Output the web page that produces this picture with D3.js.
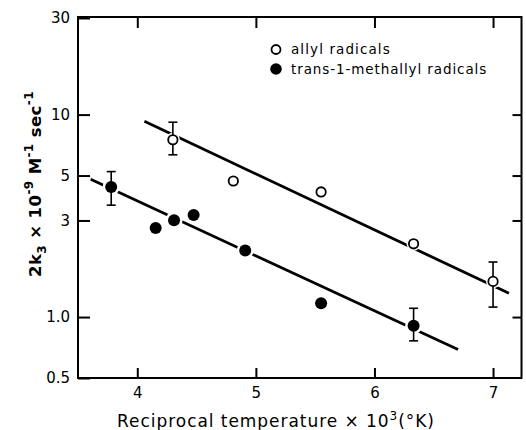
<!DOCTYPE html>
<html>
<head>
<meta charset="utf-8">
<script src="https://cdn.jsdelivr.net/npm/d3@7"></script>
<style>
  html, body { margin: 0; padding: 0; background: #fff; }
  svg { display: block; }
  text { font-family: "DejaVu Sans", sans-serif; fill: #000; }
</style>
</head>
<body>
<svg id="chart" width="526" height="430"></svg>
<script>
// ---- data ----
const allylX   = [4.30, 4.81, 5.55, 6.33, 7.00];
const allylY   = [7.51, 4.70, 4.15, 2.30, 1.50];
const allylErrLo = [6.33, null, null, null, 1.12];
const allylErrHi = [9.17, null, null, null, 1.87];

const methX    = [3.78, 4.155, 4.31, 4.475, 4.91, 5.55, 6.33];
const methY    = [4.39, 2.75, 3.01, 3.19, 2.13, 1.17, 0.905];
const methErrLo = [3.57, null, null, null, null, null, 0.763];
const methErrHi = [5.23, null, null, null, null, null, 1.105];

const allylFitX = [4.06, 7.134];
const allylFitY = [9.27, 1.31];
const methFitX  = [3.607, 6.705];
const methFitY  = [4.79, 0.691];

const xTicks = [4, 5, 6, 7];
const yTicks = [0.5, 1, 3, 5, 10, 30];
const yTickLabels = ["0.5", "1.0", "3", "5", "10", "30"];
const yInnerTicks = [1, 3, 5, 10];
const legendLabels = ["allyl radicals", "trans-1-methallyl radicals"];

// ---- layout ----
const L = 78, R = 521.5, T = 17, B = 378;
const svg = d3.select("#chart");
const x = d3.scaleLinear().domain([3.5, 7.24]).range([L, R]);
const y = d3.scaleLog().domain([0.5, 30]).range([B, 18]);

// axes
const fmt = d => yTickLabels[yTicks.indexOf(d)];
const gl = svg.append("g").attr("transform", `translate(${L},0)`)
  .call(d3.axisLeft(y).tickValues(yTicks).tickFormat(fmt).tickSize(-12).tickPadding(8));
const gr = svg.append("g").attr("transform", `translate(${R},0)`)
  .call(d3.axisRight(y).tickValues(yInnerTicks).tickFormat("").tickSize(-9));
const gb = svg.append("g").attr("transform", `translate(0,${B})`)
  .call(d3.axisBottom(x).tickValues(xTicks).tickFormat(d3.format("d")).tickSize(-10).tickPadding(9));
const gt = svg.append("g").attr("transform", `translate(0,${T})`)
  .call(d3.axisTop(x).tickValues(xTicks).tickFormat("").tickSize(-11));
[gl, gr, gb, gt].forEach(g => {
  g.select(".domain").remove();
  g.selectAll(".tick line").attr("stroke", "#000").attr("stroke-width", 2);
  g.selectAll(".tick text").attr("font-size", 15).attr("font-family", "DejaVu Sans").attr("fill", "#000");
});

// frame
svg.append("rect").attr("x", L).attr("y", T).attr("width", R - L).attr("height", B - T)
  .attr("fill", "none").attr("stroke", "#000").attr("stroke-width", 2);

// fit lines
const line = d3.line().x(d => x(d[0])).y(d => y(d[1]));
svg.append("path").datum(d3.zip(allylFitX, allylFitY)).attr("d", line)
  .attr("fill", "none").attr("stroke", "#000").attr("stroke-width", 2.8);
svg.append("path").datum(d3.zip(methFitX, methFitY)).attr("d", line)
  .attr("fill", "none").attr("stroke", "#000").attr("stroke-width", 2.8);

// halos
const allyl = allylX.map((v, i) => ({x: v, y: allylY[i], lo: allylErrLo[i], hi: allylErrHi[i]}));
const meth = methX.map((v, i) => ({x: v, y: methY[i], lo: methErrLo[i], hi: methErrHi[i]}));
svg.append("g").selectAll("circle").data(allyl).join("circle")
  .attr("cx", d => x(d.x)).attr("cy", d => y(d.y)).attr("r", 7).attr("fill", "#fff");
svg.append("g").selectAll("circle").data(meth).join("circle")
  .attr("cx", d => x(d.x)).attr("cy", d => y(d.y)).attr("r", 8.5).attr("fill", "#fff");

// error bars
function errBars(data) {
  const g = svg.append("g").attr("stroke", "#000").attr("stroke-width", 1.6);
  data.filter(d => d.lo != null).forEach(d => {
    g.append("line").attr("x1", x(d.x)).attr("x2", x(d.x)).attr("y1", y(d.lo)).attr("y2", y(d.hi));
    [d.lo, d.hi].forEach(v => g.append("line")
      .attr("x1", x(d.x) - 4.5).attr("x2", x(d.x) + 4.5).attr("y1", y(v)).attr("y2", y(v)));
  });
}
errBars(allyl); errBars(meth);

// markers
svg.append("g").selectAll("circle").data(allyl).join("circle")
  .attr("cx", d => x(d.x)).attr("cy", d => y(d.y)).attr("r", 4.7)
  .attr("fill", "#fff").attr("stroke", "#000").attr("stroke-width", 1.8);
svg.append("g").selectAll("circle").data(meth).join("circle")
  .attr("cx", d => x(d.x)).attr("cy", d => y(d.y)).attr("r", 6).attr("fill", "#000");

// legend
const lg = svg.append("g");
lg.append("circle").attr("cx", 276).attr("cy", 49.5).attr("r", 4.5)
  .attr("fill", "#fff").attr("stroke", "#000").attr("stroke-width", 1.8);
lg.append("circle").attr("cx", 276).attr("cy", 69).attr("r", 5.8).attr("fill", "#000");
lg.append("text").attr("x", 291).attr("y", 54).attr("font-size", 13.5).attr("letter-spacing", 1.1)
  .text(legendLabels[0]);
lg.append("text").attr("x", 291).attr("y", 73.5).attr("font-size", 13.5).attr("letter-spacing", 0.9)
  .text(legendLabels[1]);

// x title
const xt = svg.append("text").attr("x", 276).attr("y", 427).attr("text-anchor", "middle")
  .attr("font-size", 17).attr("letter-spacing", 0.95);
xt.append("tspan").text("Reciprocal temperature \u00d7 10");
xt.append("tspan").attr("font-size", 12).attr("dy", -7).text("3");
xt.append("tspan").attr("dy", 7).text("(\u00b0K)");

// y title
const yt = svg.append("text").attr("transform", "translate(41,184) rotate(-90)")
  .attr("text-anchor", "middle").attr("font-size", 16.5).attr("font-weight", "bold").attr("letter-spacing", 0.4);
yt.append("tspan").text("2k");
yt.append("tspan").attr("font-size", 12).attr("dy", 5).text("3");
yt.append("tspan").attr("dy", -5).text(" \u00d7 10");
yt.append("tspan").attr("font-size", 12).attr("dy", -8).text("-9");
yt.append("tspan").attr("dy", 8).text(" M");
yt.append("tspan").attr("font-size", 12).attr("dy", -8).text("-1");
yt.append("tspan").attr("dy", 8).text(" sec");
yt.append("tspan").attr("font-size", 12).attr("dy", -8).text("-1");
</script>
</body>
</html>
